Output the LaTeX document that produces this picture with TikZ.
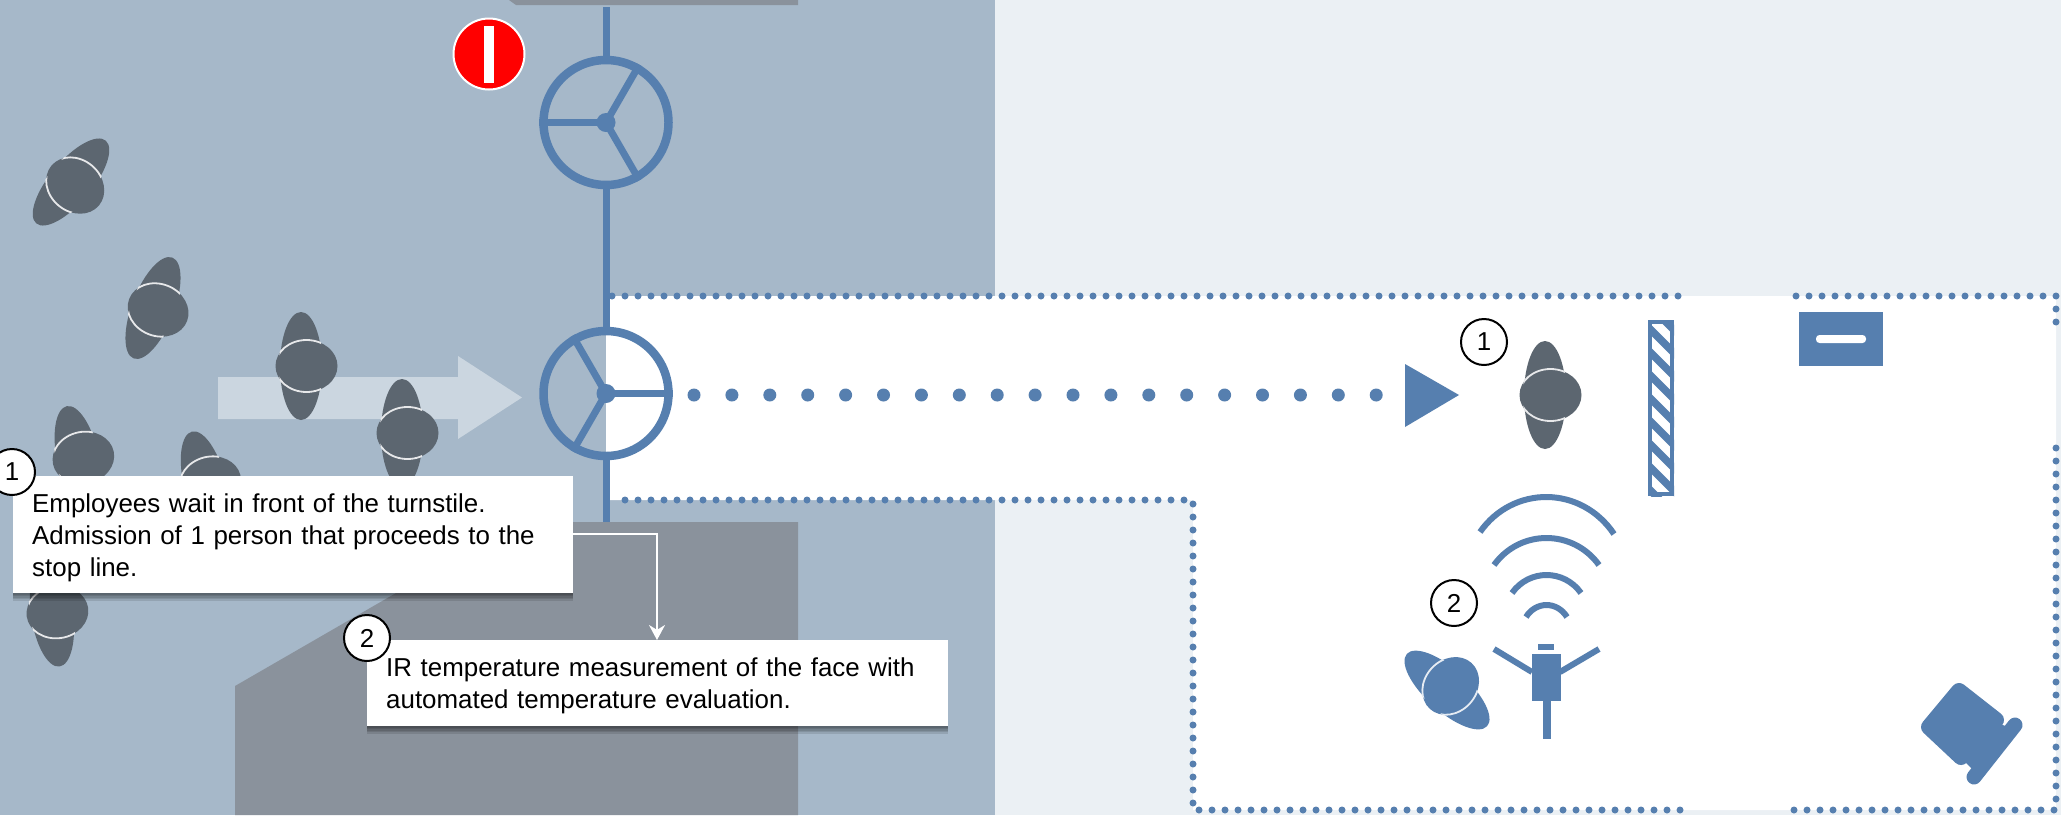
\documentclass[tikz,border=0pt]{standalone}
\usepackage{fontspec}
\setmainfont{Liberation Sans}
\usetikzlibrary{shadows,arrows.meta}
\definecolor{pagebg}{HTML}{EBF0F4}
\definecolor{zonebg}{HTML}{A6B8C9}
\definecolor{darkzone}{HTML}{8A929C}
\definecolor{flowarrow}{HTML}{CBD6E0}
\definecolor{persongray}{HTML}{5C6670}
\definecolor{steel}{HTML}{567FAF}
\tikzset{
  dotline/.style={steel,line width=7,line cap=round,dash pattern=on 0pt off 13pt},
  bigdots/.style={steel,line width=13,line cap=round,dash pattern=on 0pt off 37.9pt},
  wall/.style={steel,line width=7},
  tstile/.style={circle,draw=steel,line width=8.5,minimum size=125,inner sep=0pt},
  spoke/.style={steel,line width=7},
  hub/.style={circle,fill=steel,minimum size=19,inner sep=0pt},
  wave/.style={steel,line width=6},
  softshadow/.style={general shadow={shadow xshift=0pt,shadow yshift=#1,fill=black,opacity=0.11}},
  callout/.style={fill=white,anchor=north west,align=left,inner xsep=19,inner ysep=0,
    font=\fontsize{25.9}{32}\selectfont,
    softshadow=-1.5pt,softshadow=-3pt,softshadow=-4.5pt,softshadow=-6pt,softshadow=-7.5pt},
  numcirc/.style={circle,draw=black,line width=2,fill=white,minimum size=46,inner sep=0pt,
    font=\fontsize{25.9}{28}\selectfont},
  leader/.style={white,line width=2,-{Stealth[length=15pt,width=16pt]}},
}
\newcommand{\prsn}[4]{%
  \begin{scope}[shift={(#1,#2)},rotate=#3]
    \fill[#4] (0,0) ellipse[x radius=21,y radius=54];
    \fill[#4] (5.5,0) ellipse[x radius=31,y radius=26];
    \begin{scope}
      \clip (0,0) ellipse[x radius=22,y radius=55];
      \draw[white!85!#4,line width=1.8] (5.5,0) ellipse[x radius=31,y radius=26];
    \end{scope}
  \end{scope}}
\begin{document}
\begin{tikzpicture}[x=1pt,y=-1pt]
\useasboundingbox (0,0) rectangle (2061,815);
\clip (0,0) rectangle (2061,815);
\fill[pagebg] (0,0) rectangle (2061,815);
\fill[zonebg] (0,0) rectangle (995,815);
\fill[darkzone] (509,0) -- (798,0) -- (798,5) -- (516,5) -- cycle;
\fill[darkzone] (519,522) -- (798,522) -- (798,815) -- (235,815) -- (235,686) -- cycle;
\fill[white] (606,296) -- (2056,296) -- (2056,810) -- (1193,810) -- (1193,500) -- (606,500) -- cycle;
% dotted boundary
\coordinate (w1) at (612,296); \coordinate (w2) at (1680,296);
\coordinate (w3) at (1796,296); \coordinate (w4) at (2056,296);
\coordinate (w5) at (2056,323); \coordinate (w6) at (2056,448);
\coordinate (w7) at (2056,810); \coordinate (w8) at (1790,810);
\coordinate (w9) at (1680,810); \coordinate (w10) at (1193,810);
\coordinate (w11) at (1193,500); \coordinate (w12) at (612,500);
\draw[dotline] (w1) -- (w2);
\draw[dotline] (w3) -- (w4) -- (w5);
\draw[dotline] (w6) -- (w7) -- (w8);
\draw[dotline] (w9) -- (w10) -- (w11) -- (w12);
% flow arrow
\fill[flowarrow] (218,377) -- (458,377) -- (458,356) -- (522,397.5) -- (458,439) -- (458,419) -- (218,419) -- cycle;
% persons
\prsn{71}{182}{-40}{persongray}
\prsn{153}{308}{-21}{persongray}
\prsn{301}{366}{0}{persongray}
\prsn{402}{433}{0}{persongray}
\prsn{78}{459}{12}{persongray}
\prsn{205}{484}{14}{persongray}
\prsn{52}{613}{8}{persongray}
\prsn{1545}{395}{0}{persongray}
\prsn{1447}{690}{48}{steel}
% turnstiles
\coordinate (topend) at (606,7);
\coordinate (botend) at (606,522);
\node[tstile] (t1) at (606,122.5) {};
\node[tstile] (t2) at (606,393.5) {};
\draw[wall] (topend) -- (t1);
\draw[wall] (t1) -- (t2);
\draw[wall] (t2) -- (botend);
\draw[spoke] (t1.center) -- (t1.180);
\draw[spoke] (t1.center) -- (t1.60);
\draw[spoke] (t1.center) -- (t1.-60);
\draw[spoke] (t2.center) -- (t2.0);
\draw[spoke] (t2.center) -- (t2.120);
\draw[spoke] (t2.center) -- (t2.-120);
\node[hub] (h1) at (606,122.5) {};
\node[hub] (h2) at (606,393.5) {};
% stop sign
\node[circle,fill=red,draw=white,line width=2,minimum size=71,inner sep=0pt] (stop) at (489,54) {};
\fill[white] (484,26) rectangle (494,83);
% dotted path and triangle
\coordinate (da) at (694,395);
\coordinate (db) at (1382,395);
\draw[bigdots] (da) -- (db);
\fill[steel] (1405,364) -- (1459,395) -- (1405,427) -- cycle;
% hatched bar
\begin{scope}
  \clip (1648,320) rectangle (1674,496);
  \foreach \yy in {300,323,...,507} {
    \draw[steel,line width=7.5] (1644,\yy) -- (1678,\yy+34);
  }
\end{scope}
\draw[steel,line width=4] (1650,322) rectangle (1672,494);
% sign rectangle
\fill[steel] (1799,312) rectangle (1883,366);
\fill[white,rounded corners=3.5] (1816,335) rectangle (1866,343);
% waves
\draw[wave] (1480,532) .. controls (1513,485) and (1581,485) .. (1614,534);
\draw[wave] (1494,565) .. controls (1520,529) and (1573,529) .. (1599,565);
\draw[wave] (1512,593) .. controls (1529,569) and (1564,569) .. (1581,593);
\draw[wave] (1526,617) .. controls (1536,601) and (1557,601) .. (1567,617);
% sensor figure
\fill[steel] (1537.5,643.5) rectangle (1554,650);
\fill[steel] (1532,654) rectangle (1561,701);
\fill[steel] (1543,701) rectangle (1550.5,739);
\draw[wave] (1532,672) -- (1494,649);
\draw[wave] (1560,672) -- (1599,649);
% camera
\draw[steel,fill=steel,line width=16,line join=round] (1959,691) -- (1929,727) -- (1961,757) -- (1996,720) -- cycle;
\fill[steel] (1995,722) -- (2008,727) -- (1975,772) -- (1965,762) -- cycle;
\draw[steel,line width=15,line cap=round] (2015,725) -- (1974,777);
% callouts
\node[callout,text width=522] (c1) at (13,476) {\rule{0pt}{36.5pt}Employees wait in front of the turnstile.\\Admission of 1 person that proceeds to the\\\rule[-16.5pt]{0pt}{16.5pt}stop line.};
\node[callout,text width=543] (c2) at (367,640) {\rule{0pt}{36pt}IR temperature measurement of the face with\\\rule[-18pt]{0pt}{18pt}automated temperature evaluation.};
\coordinate (bend) at (657,534);
\coordinate (leadstart) at (c1.east |- bend);
\coordinate (leadend) at (bend |- c2.north);
\draw[leader] (leadstart) -- (bend) -- (leadend);
\node[numcirc] (n1) at (12,472) {1};
\node[numcirc] (n2) at (367,638) {2};
\node[numcirc] (n3) at (1484,342) {1};
\node[numcirc] (n4) at (1454,603) {2};
\end{tikzpicture}
\end{document}
